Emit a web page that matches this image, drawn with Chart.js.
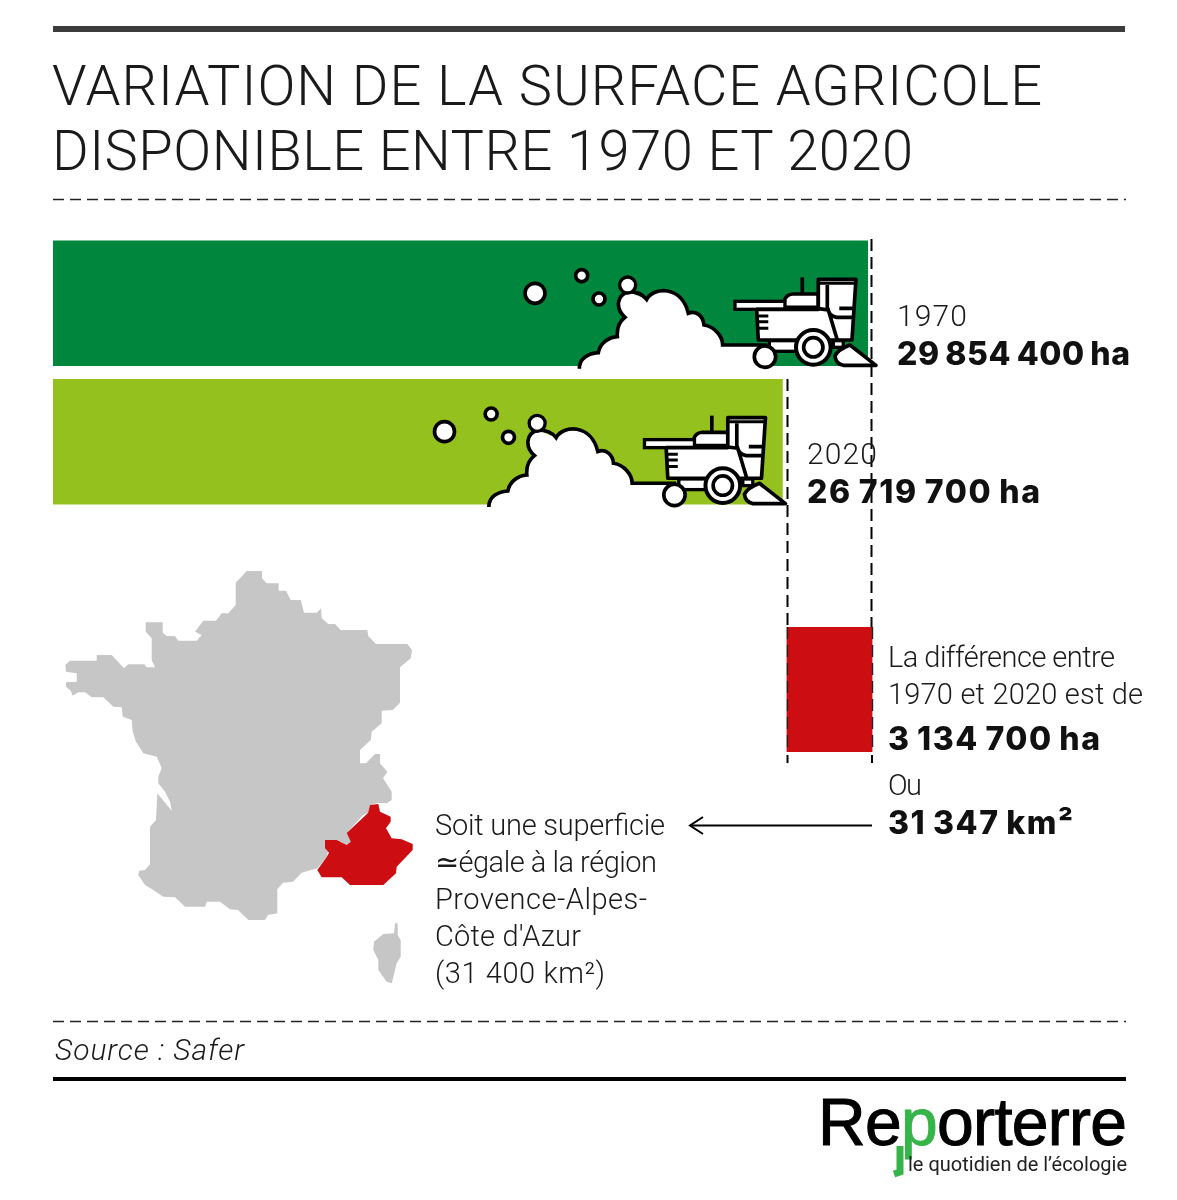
<!DOCTYPE html>
<html lang="fr">
<head>
<meta charset="utf-8">
<title>Variation de la surface agricole</title>
<script src="https://cdn.jsdelivr.net/npm/chart.js@4"></script>
<style>
html,body{margin:0;padding:0;background:#fff;}
#stage{position:relative;width:1177px;height:1200px;overflow:hidden;background:#fff;}
canvas{position:absolute;left:0;}
#overlay{position:absolute;left:0;top:0;}
</style>
</head>
<body>
<div id="stage">
<canvas id="bars" width="1177" height="277" style="top:234px"></canvas>
<canvas id="diff" width="1177" height="125" style="top:627px"></canvas>
<svg id="overlay" width="1177" height="1200" viewBox="0 0 1177 1200" xmlns="http://www.w3.org/2000/svg">
  <defs>
    <g id="machine" transform="translate(500 230) scale(0.3333)">
      <path d="M238,420 C238,385 265,370 295,368 C300,340 325,322 352,320 C350,295 358,275 375,262 C345,235 350,195 385,185 L440,208 C460,170 545,165 565,250 C590,240 610,260 612,285 C645,290 668,320 668,345 L800,345 L800,420 Z" fill="#fff"/>
      <path d="M238,416 C238,385 265,370 295,368 C300,340 325,322 352,320 C350,295 358,275 375,262 C345,235 350,195 385,185 C410,185 430,195 440,208 C460,170 545,165 565,250 C590,240 610,260 612,285 C645,290 668,320 668,345 L800,345" fill="none" stroke="#000" stroke-width="11"/>
      <circle cx="383" cy="165" r="24" fill="#fff" stroke="#000" stroke-width="10"/>
      <circle cx="105" cy="190" r="30" fill="#fff" stroke="#000" stroke-width="11"/>
      <circle cx="245" cy="137" r="18" fill="#fff" stroke="#000" stroke-width="11"/>
      <circle cx="297" cy="207" r="18" fill="#fff" stroke="#000" stroke-width="11"/>
      <line x1="907" y1="142" x2="907" y2="195" stroke="#000" stroke-width="11"/>
      <path d="M852,232 V216 Q856,194 878,192 H955 V232 Z" fill="#fff" stroke="#000" stroke-width="11"/>
      <rect x="705" y="214" width="150" height="24" fill="#fff" stroke="#000" stroke-width="10"/>
      <path d="M770,238 H955 V148 H1068 L1056,330 H775 Z" fill="#fff" stroke="#000" stroke-width="11" stroke-linejoin="round"/>
      <path d="M955,160 H1066" fill="none" stroke="#000" stroke-width="9"/>
      <path d="M982,165 V230 Q985,258 1010,262 H1056 M1018,235 H1060 M955,236 L985,240 L1012,330" fill="none" stroke="#000" stroke-width="11"/>
      <path d="M772,258 H805 M772,275 H805 M772,295 H805" fill="none" stroke="#000" stroke-width="9"/>
      <rect x="808" y="332" width="85" height="32" fill="#fff" stroke="#000" stroke-width="10"/>
      <rect x="1000" y="332" width="30" height="20" fill="#fff" stroke="#000" stroke-width="10"/>
      <path d="M1005,378 Q1012,360 1050,345 L1128,406 H1030 Q1008,402 1005,378 Z" fill="#fff" stroke="#000" stroke-width="11" stroke-linejoin="round"/>
      <circle cx="795" cy="380" r="32" fill="#fff" stroke="#000" stroke-width="11"/>
      <circle cx="940" cy="352" r="52" fill="#fff" stroke="#000" stroke-width="12"/>
      <circle cx="940" cy="352" r="29" fill="#fff" stroke="#000" stroke-width="11"/>
    </g>
  </defs>
  <rect x="53" y="26" width="1072" height="6" fill="#3c3c3c"/>
  <line x1="53" y1="199.5" x2="1126" y2="199.5" stroke="#222" stroke-width="1.4" stroke-dasharray="11 6"/>
  <line x1="53" y1="1021.5" x2="1126" y2="1021.5" stroke="#222" stroke-width="1.4" stroke-dasharray="11 6"/>
  <rect x="53" y="1077" width="1073" height="4" fill="#000"/>

  <use href="#machine"/>
  <use href="#machine" transform="translate(-90.5 138.3)"/>

  <line x1="871.5" y1="239" x2="871.5" y2="627" stroke="#000" stroke-width="2" stroke-dasharray="12 6"/>
  <line x1="787.5" y1="379" x2="787.5" y2="627" stroke="#000" stroke-width="2" stroke-dasharray="12 6"/>
  <line x1="872.5" y1="627" x2="872.5" y2="752" stroke="#222" stroke-width="1.4" stroke-dasharray="12 6"/>
  <line x1="787.5" y1="627" x2="787.5" y2="752" stroke="#222" stroke-width="1.4" stroke-dasharray="12 6"/>
  <line x1="872" y1="755" x2="872" y2="763" stroke="#000" stroke-width="2"/>
  <line x1="787.5" y1="755" x2="787.5" y2="763" stroke="#000" stroke-width="2"/>

  <path id="france" fill="#c6c6c6" d="M246.7,571 L262,571 262,578.3 266.7,583.3 278.7,583.3 278.7,590.7 286,590.7 290.7,600 300.7,600 304,612.7 316.7,612.7 321,608.3 321.7,618.3 328.3,624 335,624 340.7,630 367.3,630 368.3,636 376,644 407.3,644 412,650 410.7,658.3 400,667.3 400,702.7 392.7,710 381.7,710.7 381.7,723.3 371.7,731.7 370.7,740 360,750 360,763.3 366,763.3 375,754 380,754 380,763.3 387.3,771.7 386.7,773 383,778 391.7,791.7 391.7,800 386.7,803.3 378,803 370,805 368,813 363,815 346.7,833 350.7,841.7 346.7,845 336.7,840 325,840 325,848.3 328,851.7 326.7,857 317.3,868.3 301.7,872.7 293,881.7 283,882.7 277.3,889.3 277.3,913.3 268,915 265,920 248.3,920 238,910 230,909.3 220,901.7 206.7,901.7 205,906.7 185,906.7 175,897.3 163.3,896.7 153.3,890 145,885 138.3,875 139.3,870.7 145,870 150,864.3 150,826.7 156,820 157.3,793.3 171.7,810.7 170,801.7 165,791.7 158.3,783.3 158.3,776.7 161.7,768 156.7,756.7 143.3,753.3 136,741.7 132.7,731.7 131.7,720 122.7,716.7 121.7,707.3 113.3,706.7 103.3,697.3 91.7,697.3 85,692.3 78.3,692.3 72.7,695.7 70.7,690.7 66,686.7 66,682.3 76.7,681.7 76.7,673.3 66,671.7 65.3,665 70,660.7 96.7,660.7 96.7,655 111.7,655 124,668.3 128.3,664.3 144.3,664.3 146.7,667.3 155,667.3 151.7,660 151.7,638.3 145.7,631.7 145.7,622.3 162.7,622.3 162.7,632.7 166.7,636 175,636 178.3,640.7 196.7,640.7 201.7,635 195,631.7 203.3,620.7 216,620.7 221.7,613.3 228.3,613.3 235.7,605 235.7,582.7 Z"/>
  <path id="corse" fill="#c6c6c6" d="M395,923.3 L397.7,923.3 397.7,935 400.7,940 400.7,956.7 396.7,963.3 391.7,983.3 386.7,981.7 378.3,970 378.3,960 373.3,950 374,941.7 383.3,934 394,933.3 Z"/>
  <path id="paca" fill="#cc0e13" d="M370,805 L378.3,804 380,811.7 390.7,816.7 390.7,821.7 386,828.3 391.7,838.3 401.7,839.3 412.7,844 412.7,850 396.7,866.7 396,873.3 383.3,885 350,885 341.7,877.3 321.7,877.3 317.3,870 326.7,857 329,852.7 325,848.3 325,840 336.7,840 346.7,845 350.7,841.7 346.7,833 368,813 Z"/>

  <line x1="872" y1="825.5" x2="692" y2="825.5" stroke="#000" stroke-width="2"/>
  <path d="M703,817 L690,825.5 703,834" fill="none" stroke="#000" stroke-width="2"/>
  <g id="texts"></g>
  <path d="M900,1146 V1172 L894,1174" fill="none" stroke="#36b44a" stroke-width="7"/>
</svg>
</div>
<script>
const years = ["1970", "2020"];
const surfaceHa = [29854400, 26719700];
const differenceHa = [[26719700, 29854400]];
const barColors = ["#00863d", "#95c11f"];
const diffColor = "#cc0e13";
const titleLines = ["VARIATION DE LA SURFACE AGRICOLE", "DISPONIBLE ENTRE 1970 ET 2020"];
const diffLines = ["La différence entre", "1970 et 2020 est de"];
const diffText = "3 134 700 ha";
const orText = "Ou";
const kmText = "31 347 km²";
const regionLines = ["Soit une superficie", "≃égale à la région", "Provence-Alpes-", "Côte d'Azur", "(31 400 km²)"];
const sourceText = "Source : Safer";

const fmt = n => String(n).replace(/\B(?=(\d{3})+(?!\d))/g, " ") + " ha";
const xScale = {type:"linear", display:false, min:0, max:Math.max(...surfaceHa)};
const base = (l, r) => ({
  responsive:false, animation:false, indexAxis:"y",
  layout:{padding:{left:l, right:r, top:0, bottom:0}},
  plugins:{legend:{display:false}, tooltip:{enabled:false}, title:{display:false}},
  scales:{x:xScale, y:{type:"category", display:false}}
});
new Chart(document.getElementById("bars"), {
  type:"bar",
  data:{labels:years, datasets:[{data:surfaceHa, backgroundColor:barColors, borderWidth:0, barThickness:125}]},
  options:base(53, 309)
});
new Chart(document.getElementById("diff"), {
  type:"bar",
  data:{labels:["Différence"], datasets:[{data:differenceHa, backgroundColor:diffColor, borderWidth:0, barPercentage:1, categoryPercentage:1}]},
  options:base(57.5, 304.5)
});

const NS = "http://www.w3.org/2000/svg";
const host = document.getElementById("texts");
function t(str, x, y, size, weight, x2, extra){
  const e = document.createElementNS(NS, "text");
  e.textContent = str;
  e.setAttribute("x", x); e.setAttribute("y", y);
  e.setAttribute("font-family", (extra&&extra.family) || "Roboto");
  e.setAttribute("font-size", size);
  e.setAttribute("font-weight", weight);
  e.setAttribute("fill", (extra&&extra.fill) || "#1a1a1a");
  if (extra&&extra.style) e.setAttribute("font-style", extra.style);
  if (extra&&extra.word) e.setAttribute("word-spacing", extra.word);
  if (extra&&extra.stroke) { e.setAttribute("stroke", extra.fill); e.setAttribute("stroke-width", extra.stroke); }
  if (x2) { e.setAttribute("textLength", x2 - x); e.setAttribute("lengthAdjust", "spacing"); }
  host.appendChild(e);
  return e;
}
const boldStyle = {family:"Inter", fill:"#111", word:-2};
t(titleLines[0], 52, 105, 56, 300, 1042);
t(titleLines[1], 52, 170, 56, 300, 913);
t(years[0], 897, 326, 30, 300, 967);
t(fmt(surfaceHa[0]), 897, 365, 32, 800, 1130, boldStyle);
t(years[1], 807, 464, 30, 300, 877);
t(fmt(surfaceHa[1]), 807, 503, 32, 800, 1040, boldStyle);
t(diffLines[0], 888, 667, 29, 300, 1115);
t(diffLines[1], 888, 704, 29, 300, 1143);
t(diffText, 888, 750, 32, 800, 1100, boldStyle);
t(orText, 888, 795, 29, 300, 922);
t(kmText, 888, 834, 32, 800, 1073, boldStyle);
const regionEnds = [665, 657, 647, 581, 605];
regionLines.forEach((s,i)=>t(s, 435, 835+37*i, 29, 300, regionEnds[i]));
t(sourceText, 55, 1060, 30, 300, 244, {style:"italic"});

/* logo */
const logo = t("", 818, 1145, 66, 400, 1127, {family:"Liberation Sans", fill:"#000", stroke:1});
["Re","p","orterre"].forEach((s,i)=>{
  const sp = document.createElementNS(NS,"tspan");
  sp.textContent = s;
  if(i===1){ sp.setAttribute("fill","#36b44a"); sp.setAttribute("stroke","#36b44a"); }
  logo.appendChild(sp);
});
t("le quotidien de l’écologie", 908, 1171, 20, 400, 1127, {fill:"#222"});
</script>
</body>
</html>
